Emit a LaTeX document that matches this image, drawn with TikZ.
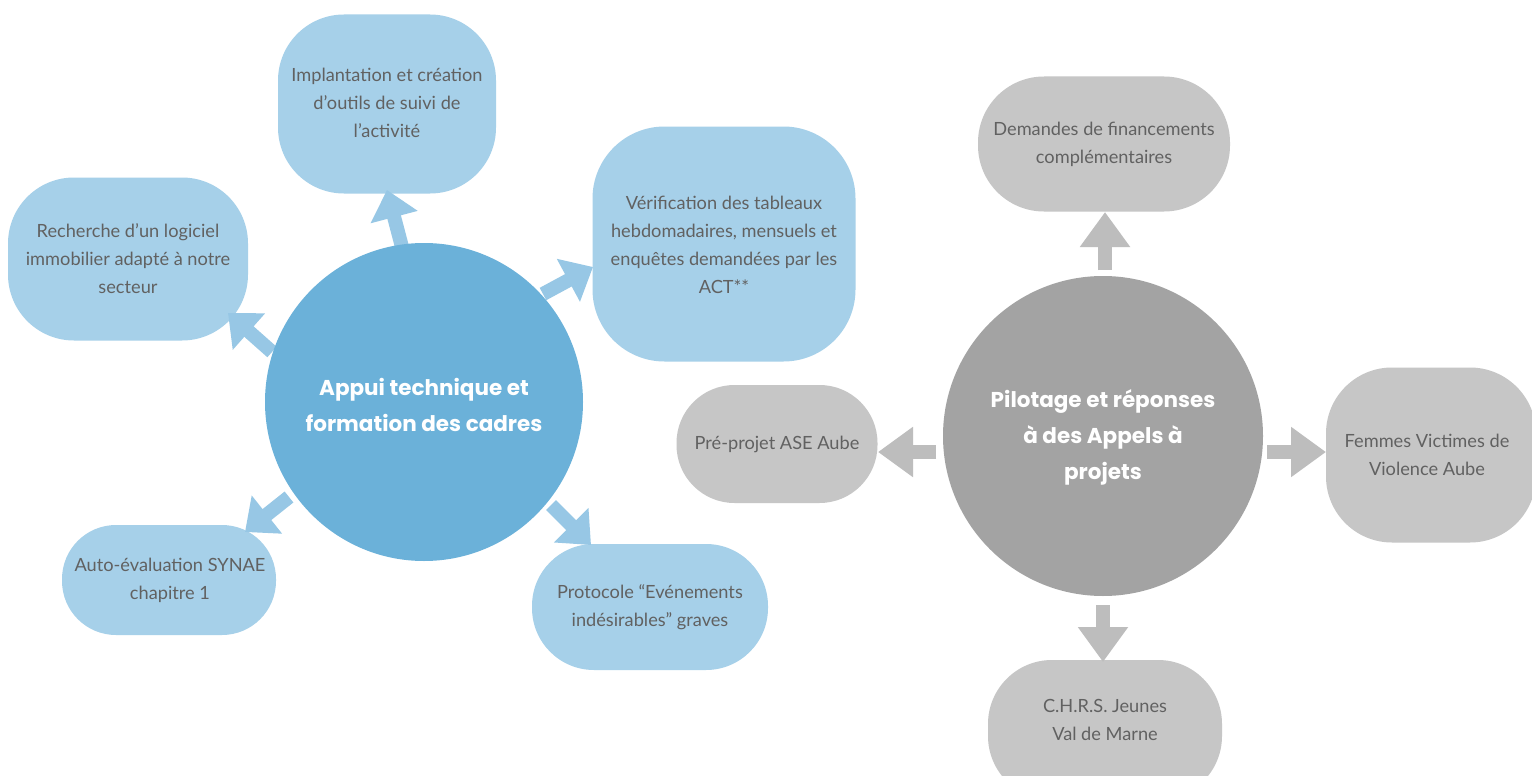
\documentclass[tikz,border=0pt]{standalone}
\usepackage{fontspec}
\setmainfont{Lato}
\newfontfamily\titlefont{Poppins}
\usetikzlibrary{arrows.meta}
\definecolor{bluecirc}{HTML}{6BB1D9}
\definecolor{bluebox}{HTML}{A6D0E9}
\definecolor{bluearr}{HTML}{97C7E5}
\definecolor{greycirc}{HTML}{A3A3A3}
\definecolor{greybox}{HTML}{C6C6C6}
\definecolor{greyarr}{HTML}{BDBDBD}
\definecolor{txt}{HTML}{616161}
\tikzset{
  lbox/.style={draw=none, fill=bluebox, rounded corners=66pt, inner sep=0pt},
  gbox/.style={draw=none, fill=greybox, rounded corners=58pt, inner sep=0pt},
  lbl/.style={text=txt, align=center, font=\fontsize{18.2}{28}\selectfont, inner sep=0pt},
  ttl/.style={text=white, align=center, font=\titlefont\bfseries\fontsize{21.5}{36}\selectfont, inner sep=0pt},
  barrow/.style={draw=bluearr, line width=14pt, line cap=butt,
    -{Triangle[width=47pt, length=28pt]}},
  garrow/.style={draw=greyarr, line width=14pt, line cap=butt,
    -{Triangle[width=48pt, length=35pt]}},
}
\begin{document}
\begin{tikzpicture}[x=1pt, y=-1pt]
\useasboundingbox[fill=white] (0,0) rectangle (1532,776);

% ---- blue cluster: boxes
\node[lbox, minimum width=218pt, minimum height=179pt] (b1) at (387,104) {};
\node[lbox, minimum width=240pt, minimum height=163pt] (b2) at (128,259) {};
\node[lbox, minimum width=263pt, minimum height=235pt, rounded corners=72pt] (b3) at (724,244) {};
\node[lbox, minimum width=214pt, minimum height=110pt, rounded corners=54pt] (b4) at (169,580) {};
\node[lbox, minimum width=236pt, minimum height=126pt, rounded corners=62pt] (b5) at (650,607) {};

% ---- grey cluster: boxes
\node[gbox, minimum width=252pt, minimum height=135pt, rounded corners=66pt] (g1) at (1104,144) {};
\node[gbox, minimum width=201pt, minimum height=118pt] (g2) at (777,444) {};
\node[gbox, minimum width=210pt, minimum height=175pt, rounded corners=66pt] (g3) at (1431,455) {};
\node[gbox, minimum width=234pt, minimum height=140pt, rounded corners=64pt] (g4) at (1105,730) {};

% ---- arrows (blue)
\coordinate (a1s) at (402,247); \coordinate (a1t) at (387,190);
\coordinate (a2s) at (272,352); \coordinate (a2t) at (228,313);
\coordinate (a3s) at (543,294); \coordinate (a3t) at (593,267);
\coordinate (a4s) at (289,497); \coordinate (a4t) at (245,532);
\coordinate (a5s) at (551,505); \coordinate (a5t) at (591,545);
\draw[barrow] (a1s) -- (a1t);
\draw[barrow] (a2s) -- (a2t);
\draw[barrow] (a3s) -- (a3t);
\draw[barrow] (a4s) -- (a4t);
\draw[barrow] (a5s) -- (a5t);

% ---- arrows (grey)
\coordinate (c1s) at (1105,270); \coordinate (c1t) at (1105,212);
\coordinate (c2s) at (936,452);  \coordinate (c2t) at (878,452);
\coordinate (c3s) at (1267,452); \coordinate (c3t) at (1326,452);
\coordinate (c4s) at (1103,605); \coordinate (c4t) at (1103,662);
\draw[garrow] (c1s) -- (c1t);
\draw[garrow] (c2s) -- (c2t);
\draw[garrow] (c3s) -- (c3t);
\draw[garrow] (c4s) -- (c4t);

% ---- circles
\node[circle, fill=bluecirc, minimum size=318pt, inner sep=0pt] (cb) at (424,402) {};
\node[circle, fill=greycirc, minimum size=320pt, inner sep=0pt] (cg) at (1103,436) {};

% ---- titles
\node[ttl] (tb) at (424,405) {Appui technique et\\formation des cadres};
\node[ttl] (tg) at (1103,437) {Pilotage et réponses\\à des Appels à\\projets};

% ---- labels
\node[lbl] (l1) at (387,103) {Implantation et création\\d’outils de suivi de\\l’activité};
\node[lbl] (l2) at (128,259) {Recherche d’un logiciel\\immobilier adapté à notre\\secteur};
\node[lbl] (l3) at (724,245) {Vérification des tableaux\\hebdomadaires, mensuels et\\enquêtes demandées par les\\ACT**};
\node[lbl] (l4) at (170,580) {Auto-évaluation SYNAE\\chapitre 1};
\node[lbl] (l5) at (650,607) {Protocole “Evénements\\indésirables” graves};
\node[lbl] (m1) at (1104,144) {Demandes de financements\\complémentaires};
\node[lbl] (m2) at (777,444) {Pré-projet ASE Aube};
\node[lbl] (m3) at (1427,455) {Femmes Victimes de\\Violence Aube};
\node[lbl] (m4) at (1105,720) {C.H.R.S. Jeunes\\Val de Marne};
\end{tikzpicture}
\end{document}
